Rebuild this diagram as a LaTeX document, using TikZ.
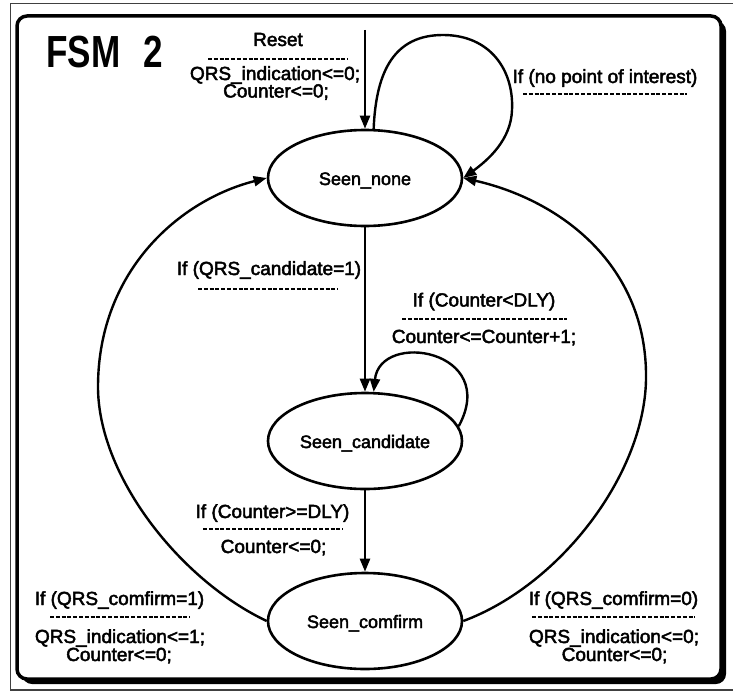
\documentclass[tikz,border=0pt]{standalone}
\usepackage{fontspec}
\setmainfont{Liberation Sans}
\newfontfamily\lblfont[FakeBold=2.5]{Liberation Sans}
\usetikzlibrary{arrows.meta,shapes.geometric,calc}

\begin{document}
\begin{tikzpicture}[x=1pt,y=-1pt,
  state/.style={draw,ellipse,line width=2.6pt,minimum width=194pt,minimum height=96pt,
    inner sep=0pt,text height=16pt,text depth=2pt,font=\lblfont\fontsize{18}{18}\selectfont},
  lbl/.style={anchor=base,inner sep=0pt,font=\lblfont\fontsize{19}{19}\selectfont},
  sep/.style={line width=2pt,dash pattern=on 4pt off 1.8pt},
  arr/.style={line width=2.4pt,-{Triangle[length=13pt,width=10pt]}},
]
\useasboundingbox (0,0) rectangle (733,693);

% page frame
\draw[line width=1.5pt,black!75] (10.5,3.5) rectangle (745,690);
% panel with drop shadow
\fill[black,rounded corners=10pt] (22,21) rectangle (726,684);
\draw[line width=3.5pt,fill=white,rounded corners=10pt] (17,16) rectangle (721,679);

% title
\node[anchor=base west,inner sep=0pt,font=\bfseries\fontsize{45}{45}\selectfont] (title) at (46,67)
  {\scalebox{0.78}[1]{FSM\hspace{30pt}2}};

% states
\node[state] (none) at (365,178) {Seen\_none};
\node[state] (cand) at (365,441) {Seen\_candidate};
\node[state] (conf) at (365,621) {Seen\_comfirm};

% reset entry
\coordinate (rstin) at (365,30);
\draw[arr] (rstin) -- (none.north);

% transitions
\draw[arr] (none.80) .. controls (376,70) and (395,35) .. (443,35)
                     .. controls (490,35) and (514,70) .. (512,110)
                     .. controls (511,140) and (488,160) .. (none.east);
\draw[arr] (none.south) -- (cand.north);
\draw[arr] (cand.9) .. controls (500,350) and (380,330) .. (cand.80);
\draw[arr] (cand.south) -- (conf.north);
\draw[arr] (conf.west) .. controls (180,580) and (97,475) .. (98,385)
                       .. controls (99,270) and (180,200) .. (none.west);
\draw[arr] (conf.east) .. controls (560,585) and (644,475) .. (646,380)
                       .. controls (648,265) and (560,200) .. (none.east);

% labels
\node[lbl] (rst) at (278,46) {Reset};
\draw[sep] (208,59) -- (348,59);
\node[lbl] (rsta) at (275,80) {QRS\_indication<=0;};
\node[lbl] (rstb) at (276,97.5) {Counter<=0;};

\node[lbl] (nopi) at (605,83) {If (no point of interest)};
\draw[sep] (523,94) -- (687,94);

\node[lbl] (qc) at (269,275) {If (QRS\_candidate=1)};
\draw[sep] (198,289) -- (338,289);

\node[lbl] (cl) at (484,306.5) {If (Counter<DLY)};
\draw[sep] (402,319) -- (567,319);
\node[lbl] (cla) at (484,343) {Counter<=Counter+1;};

\node[lbl] (cg) at (272.5,518) {If (Counter>=DLY)};
\draw[sep] (203,528.5) -- (343,528.5);
\node[lbl] (cga) at (273.5,553) {Counter<=0;};

\node[lbl] (c1) at (119.5,605) {If (QRS\_comfirm=1)};
\draw[sep] (50,617) -- (190,617);
\node[lbl] (c1a) at (120,643) {QRS\_indication<=1;};
\node[lbl] (c1b) at (119,661) {Counter<=0;};

\node[lbl] (c0) at (613.5,605) {If (QRS\_comfirm=0)};
\draw[sep] (532,617) -- (695,617);
\node[lbl] (c0a) at (614,643) {QRS\_indication<=0;};
\node[lbl] (c0b) at (614.5,661) {Counter<=0;};
\end{tikzpicture}
\end{document}
